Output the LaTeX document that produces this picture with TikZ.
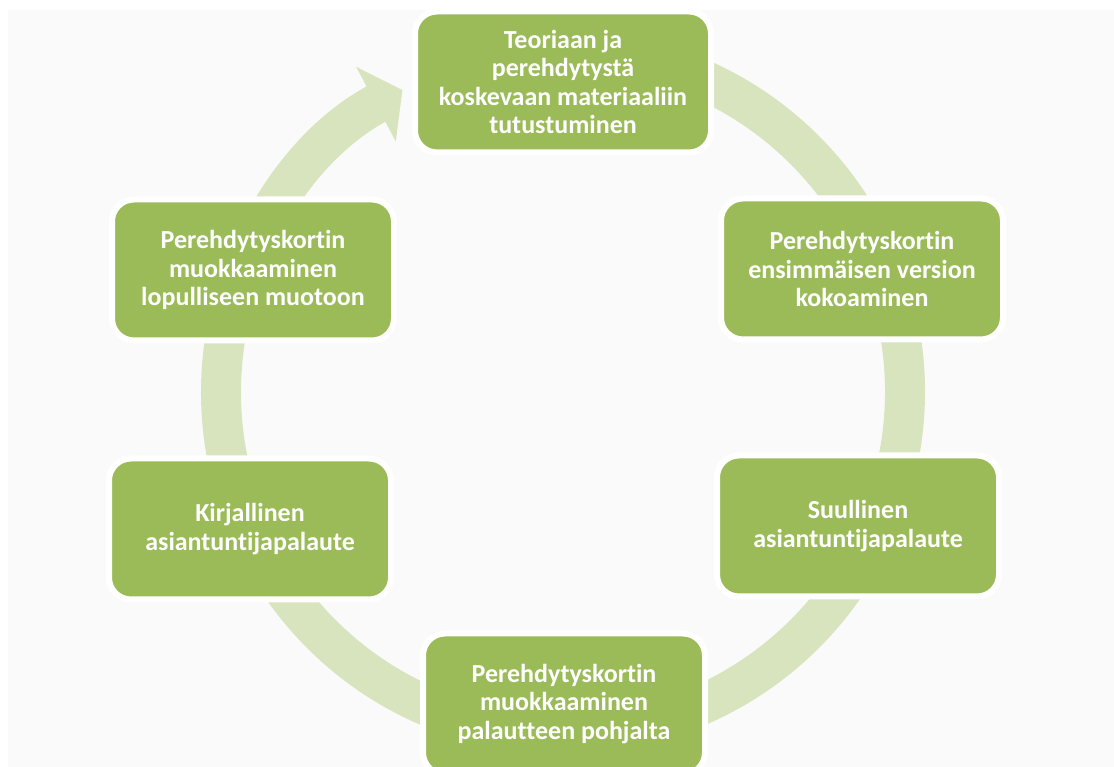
\documentclass[tikz,border=0pt]{standalone}
\usepackage{fontspec}
\setmainfont{Carlito}[Ligatures=NoCommon]
\usetikzlibrary{arrows.meta,positioning}
\definecolor{pkgreen}{HTML}{9BBB59}
\definecolor{pkring}{HTML}{D8E4BD}
\definecolor{pkback}{HTML}{FAFAFA}
\tikzset{
  stagebox/.style={draw=white,line width=6pt,rounded corners=22pt,fill=pkgreen,
                   align=center,minimum width=282pt,minimum height=141pt,inner sep=0pt,
                   text=white,font=\fontsize{26}{28.3}\selectfont\bfseries},
  ringflow/.style={line width=40pt,draw=pkring,-{Triangle[length=30pt,width=83pt]}}
}
\begin{document}
\begin{tikzpicture}[x=1pt,y=1pt]
    \useasboundingbox (0,0) rectangle (1114,767);
    \clip (0,0) rectangle (1114,767);
    \fill[pkback] (8,0) rectangle (1114,757);

    % ring behind the stages
    \coordinate (ringc) at (563,375);
    \draw[ringflow] ([shift={(85:342)}]ringc) arc[start angle=85,end angle=-242,radius=342];

    \node[stagebox,minimum width=296pt] (theory) at (563,685) {Teoriaan ja\\perehdytystä\\koskevaan materiaaliin\\tutustuminen};
    \node[stagebox] (firstdraft) at (862,498) {Perehdytyskortin\\ensimmäisen version\\kokoaminen};
    \node[stagebox] (oralfb) at (858,241) {Suullinen\\asiantuntijapalaute};
    \node[stagebox] (revision) at (564,63) {Perehdytyskortin\\muokkaaminen\\palautteen pohjalta};
    \node[stagebox] (writtenfb) at (250,238) {Kirjallinen\\asiantuntijapalaute};
    \node[stagebox] (finalform) at (253,497) {Perehdytyskortin\\muokkaaminen\\lopulliseen muotoon};
  \end{tikzpicture}
\end{document}
